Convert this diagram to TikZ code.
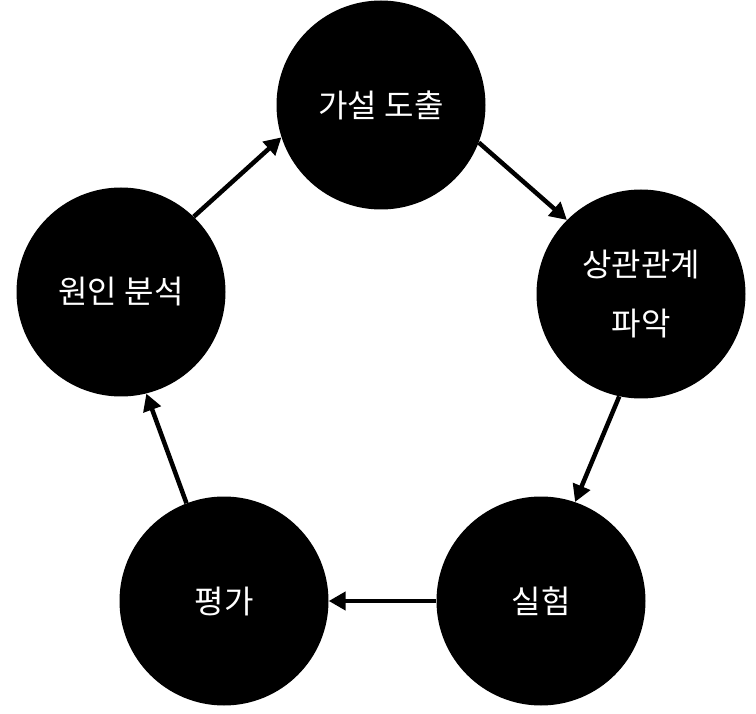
\documentclass[tikz,border=0pt]{standalone}
\usepackage{fontspec}
\newfontfamily\kofont{Noto Sans CJK KR}
\usetikzlibrary{arrows.meta}

\begin{document}
\begin{tikzpicture}[x=1pt,y=1pt,
    stage/.style={circle,fill=black,inner sep=0pt,minimum size=209pt,
      text=white,align=center,font=\kofont\fontsize{32}{59}\selectfont},
    flow/.style={draw,line width=4.5pt,-{Triangle[length=17pt,width=18pt]}}]

  \useasboundingbox (0,0) rectangle (756,-714);

  \node [stage] (hypo)   at (381,-105) {가설 도출};
  \node [stage] (corr)   at (641,-294) {상관관계\\파악};
  \node [stage] (exper)  at (541,-601) {실험};
  \node [stage] (eval)   at (224,-601) {평가};
  \node [stage] (cause)  at (121,-292) {원인 분석};

  \path [flow]
    (hypo.-21)   edge (corr.135)
    (corr.258)   edge (exper.71)
    (exper.180)  edge (eval.0)
    (eval.111)   edge (cause.-76)
    (cause.46)   edge (hypo.198);

\end{tikzpicture}
\end{document}
